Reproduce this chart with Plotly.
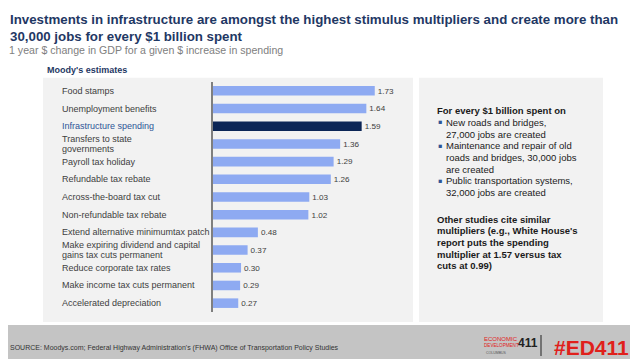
import plotly.graph_objects as go

# ---- data ----
categories = [
    "Food stamps",
    "Unemployment benefits",
    "Infrastructure spending",
    "Transfers to state\ngovernments",
    "Payroll tax holiday",
    "Refundable tax rebate",
    "Across-the-board tax cut",
    "Non-refundable tax rebate",
    "Extend alternative minimumtax patch",
    "Make expiring dividend and capital\ngains tax cuts permanent",
    "Reduce corporate tax rates",
    "Make income tax cuts permanent",
    "Accelerated depreciation",
]
values = [1.73, 1.64, 1.59, 1.36, 1.29, 1.26, 1.03, 1.02, 0.48, 0.37, 0.30, 0.29, 0.27]
highlight = "Infrastructure spending"

title_lines = [
    "Investments in infrastructure are amongst the highest stimulus multipliers and create more than",
    "30,000 jobs for every $1 billion spent",
]
subtitle = "1 year $ change in GDP for a given $ increase in spending"
panel_title = "Moody's estimates"
side_heading = "For every $1 billion spent on"
side_bullets = [
    ["New roads and bridges,", "27,000 jobs are created"],
    ["Maintenance and repair of old", "roads and bridges, 30,000 jobs", "are created"],
    ["Public transportation systems,", "32,000 jobs are created"],
]
side_note = [
    "Other studies cite similar",
    "multipliers (e.g., White House's",
    "report puts the spending",
    "multiplier at 1.57 versus tax",
    "cuts at 0.99)",
]
source = "SOURCE: Moodys.com; Federal Highway Administration's (FHWA) Office of Transportation Policy Studies"

# page body has an 8px default margin: figure sits at (8, 8)
OFF = 8
W, H = 638 - OFF, 359 - OFF
NAVY = "#1f3864"
LIGHT = "#8eaaf2"
DARK = "#0b2556"
TXT = "#404040"
FONT = "Liberation Sans"


def px(x):
    return (x - OFF) / W


def py(y):
    return 1 - (y - OFF) / H


ids = list(range(len(categories)))
colors = [DARK if c == highlight else LIGHT for c in categories]

fig = go.Figure()
fig.add_trace(go.Bar(
    x=values, y=ids, orientation="h",
    marker=dict(color=colors, line=dict(width=0)),
    width=0.54,
    text=[f"{v:.2f}" for v in values], textposition="outside",
    textfont=dict(size=8.5, color=TXT, family=FONT),
    cliponaxis=False, hoverinfo="skip",
))

ann = []


def txt(x, y, s, size, color, anchor="left", family=FONT):
    ann.append(dict(x=px(x), y=py(y), xref="paper", yref="paper", xanchor=anchor, yanchor="middle",
                    text=s, showarrow=False, font=dict(size=size, color=color, family=family)))


# category labels (left aligned)
for i, c in enumerate(categories):
    lines = c.split("\n")
    n = len(lines)
    for k, ln in enumerate(lines):
        shift = (n - 1) * 5 - k * 10
        ann.append(dict(
            x=px(60), xref="paper", xanchor="left", y=i, yref="y", yanchor="middle",
            yshift=shift, text=ln, showarrow=False,
            font=dict(size=9, color=("#2e5597" if c == highlight else TXT), family=FONT),
        ))

# titles
txt(8, 20, "<b>" + title_lines[0] + "</b>", 13.3, NAVY)
txt(8, 36, "<b>" + title_lines[1] + "</b>", 13.3, NAVY)
txt(7, 50, subtitle, 10.6, "#808080")
txt(45, 70, "<b>" + panel_title + "</b>", 9, NAVY)

# side panel text
LS = 11.7
yy = 110.7
txt(435, yy, "<b>" + side_heading + "</b>", 9.5, "#1a1a1a")
yy += LS
for b in side_bullets:
    txt(436, yy, "▪", 6.5, "#2e5597", family="DejaVu Sans")
    for ln in b:
        txt(444, yy, ln, 9.5, "#1a1a1a")
        yy += LS
yy = 219
for ln in side_note:
    txt(435, yy, "<b>" + ln + "</b>", 9.5, "#1a1a1a")
    yy += LS

# footer
txt(8, 348, source, 7, "#333333")
txt(631, 347, "<b>#ED411</b>", 21, "#e0201b", anchor="right")
txt(482, 339, "ECONOMIC", 6, "#e0201b")
txt(482, 345, "DEVELOPMENT", 4.6, "#e0201b")
txt(516, 343, "<b>411</b>", 12, "#222222")
txt(484, 353, "COLUMBUS", 3.5, "#555555")

shapes = [
    dict(type="rect", xref="paper", yref="paper", x0=px(43), x1=px(413), y0=py(322), y1=py(77.7),
         fillcolor="#f2f2f2", line=dict(width=0), layer="below"),
    dict(type="rect", xref="paper", yref="paper", x0=px(419), x1=px(603), y0=py(322), y1=py(77.7),
         fillcolor="#f2f2f2", line=dict(width=0), layer="below"),
    dict(type="rect", xref="paper", yref="paper", x0=px(0), x1=px(638), y0=py(359), y1=py(325),
         fillcolor="#c4c4c4", line=dict(width=0), layer="below"),
    dict(type="line", xref="paper", yref="paper", x0=px(541), x1=px(541), y0=py(335), y1=py(356),
         line=dict(color="#222222", width=1)),
]

fig.update_layout(
    width=W, height=H, margin=dict(l=0, r=0, t=0, b=0),
    paper_bgcolor="white", plot_bgcolor="rgba(0,0,0,0)",
    showlegend=False, bargap=0.45,
    xaxis=dict(domain=[px(213), px(400)], range=[0, 2.0], visible=False, fixedrange=True),
    yaxis=dict(domain=[py(312), py(82)], range=[len(categories) - 0.5, -0.5],
               showticklabels=False, showgrid=False, zeroline=False, ticks="",
               showline=True, linecolor="#7f7f7f", linewidth=2, fixedrange=True),
    annotations=ann, shapes=shapes,
)

fig.write_html("out.html")
